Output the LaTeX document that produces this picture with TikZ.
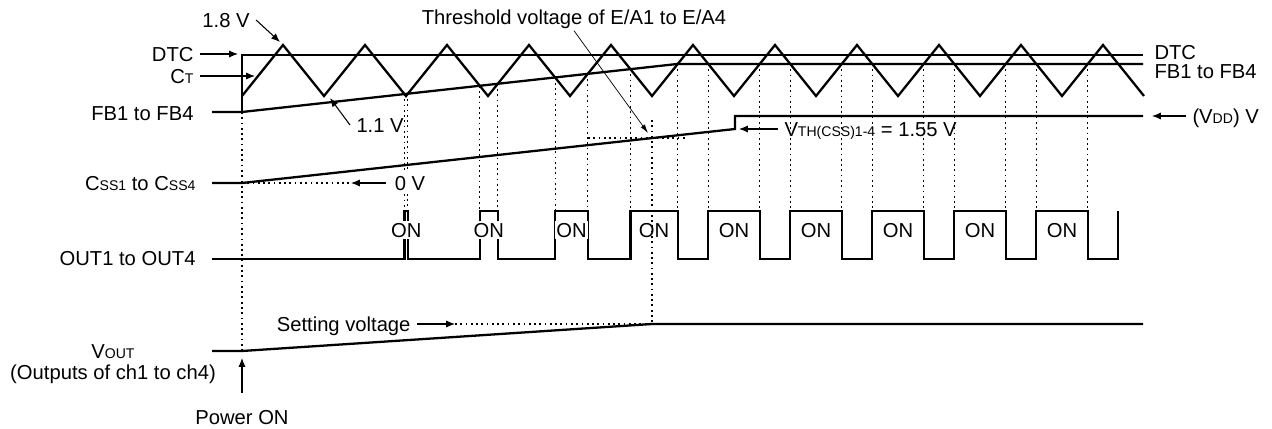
\documentclass[tikz,border=0pt]{standalone}
\usepackage{fontspec}
\setmainfont{Liberation Sans}
\usepackage{tikz}
\usetikzlibrary{positioning, shapes, arrows, arrows.meta}

\newcommand{\smtxt}[1]{{\fontsize{8}{9}\selectfont #1}}

\begin{document}
\begin{tikzpicture}[x=0.02cm, y=-0.02cm, font=\fontsize{11.5}{13}\selectfont,
  tag/.style={inner sep=3.5pt, text height=8.2pt, text depth=0pt},
  onlbl/.style={fill=white, inner sep=1pt, text height=8.2pt, text depth=0pt},
  wave/.style={line width=1.3pt, line join=miter},
  guide/.style={dash pattern=on 1pt off 2pt, line width=0.75pt},
  pointer/.style={-{Latex[length=5pt, width=4pt]}, line width=0.6pt},
  fine/.style={-{Latex[length=5pt, width=2.8pt]}, line width=0.4pt}]

  \useasboundingbox (0,0) rectangle (1272,429);

  \node (v18) [tag] at (226,20) {1.8 V};
  \node (thr) [tag] at (574,17) {Threshold voltage of E/A1 to E/A4};
  \node (dtcleft) [tag, anchor=east] at (200,54) {DTC};
  \node (ctleft) [tag, anchor=east] at (200,76) {C\smtxt{T}};
  \node (fbleft) [tag, anchor=east] at (200,113) {FB1 to FB4};
  \node (v11) [tag, anchor=west] at (350,125) {1.1 V};
  \node (cssleft) [tag, anchor=east] at (202,183) {C\smtxt{SS1} to C\smtxt{SS4}};
  \node (outleft) [tag, anchor=east] at (202,258) {OUT1 to OUT4};
  \node (voutleft) [tag] at (113,351) {V\smtxt{OUT}};
  \node (chleft) [tag] at (113,372) {(Outputs of ch1 to ch4)};
  \node (pon) [tag] at (242,417) {Power ON};
  \node (setv) [tag, anchor=east] at (417,324) {Setting voltage};
  \node (dtcright) [tag, anchor=west] at (1148,52) {DTC};
  \node (fbright) [tag, anchor=west] at (1148,71) {FB1 to FB4};
  \node (vdd) [tag, anchor=west] at (1186,116) {(V\smtxt{DD}) V};
  \node (vth) [tag, anchor=west] at (778,129) {V\smtxt{TH(CSS)1-4} = 1.55 V};

  \coordinate (v18tip) at (280,42);
  \coordinate (thrtip) at (648,133);
  \coordinate (dtctip) at (238,54);
  \coordinate (cttip) at (255,76);
  \coordinate (v11tip) at (330,98);
  \coordinate (zerotip) at (351,183);
  \coordinate (pontip) at (242,358);
  \coordinate (settip) at (455,324);
  \coordinate (vddtip) at (1152,116);
  \coordinate (vthtip) at (739,129);

  \draw [guide] (242,112) -- (242,351);
  \foreach \e/\t in {404.5/94.1, 407.8/93.7, 479.8/85.8, 497.8/83.8, 555.2/77.5,
      587.7/73.9, 630.5/69.1, 677.7/64, 708.3/64, 759.7/64, 790.3/64, 841.7/64,
      872.3/64, 923.7/64, 954.3/64, 1005.7/64, 1036.3/64, 1087.7/64}
    \draw [guide] (\e,\t) -- (\e,211);
  \draw [guide] (588,138) -- (688,138);
  \draw [guide] (242,183) -- (zerotip);
  \draw [guide] (settip) -- (652,324);

  \node (zerov) [tag, anchor=west, fill=white, inner sep=2pt] at (391,183) {0 V};

  \draw [wave] (242,112) -- (242,55) -- (1143,55);
  \draw [wave] (212,112) -- (242,112) -- (677,64) -- (1143,64);
  \draw [wave] (242,96) \foreach \k in {1,3,...,21} {-- ({242+41*\k},45) -- ({242+41*(\k+1)},96)};
  \draw [wave] (212,183) -- (242,183) -- (735,129) -- (735,116) -- (1143,116);
  \draw [wave] (212,259) \foreach \a/\b in {404.5/407.8, 479.8/497.8, 555.2/587.7,
      630.5/677.7, 708.3/759.7, 790.3/841.7, 872.3/923.7, 954.3/1005.7, 1036.3/1087.7}
    {-- (\a,259) -- (\a,211) -- (\b,211) -- (\b,259)} -- (1118,259) -- (1118,211);
  \draw [wave] (212,351) -- (242,351) -- (652,324) -- (1143,324);

  \foreach \c [count=\i] in {406.2, 488.8, 571.5, 654.1, 734, 816, 898, 980, 1062}
    \node (on\i) [onlbl] at (\c,230) {ON};

  \draw [guide] (652,120) -- (652,324);

  \draw [pointer] (v18.east) -- (v18tip);
  \draw [fine] (thr.south) -- (thrtip);
  \draw [pointer] (dtcleft) -- (dtctip);
  \draw [pointer] (ctleft) -- (cttip);
  \draw [pointer] (v11.west) -- (v11tip);
  \draw [pointer, shorten <=3pt] (zerov) -- (zerotip);
  \draw [pointer, shorten <=6pt] (pon) -- (pontip);
  \draw [pointer] (setv) -- (settip);
  \draw [pointer] (vdd) -- (vddtip);
  \draw [pointer] (vth) -- (vthtip);
\end{tikzpicture}
\end{document}
